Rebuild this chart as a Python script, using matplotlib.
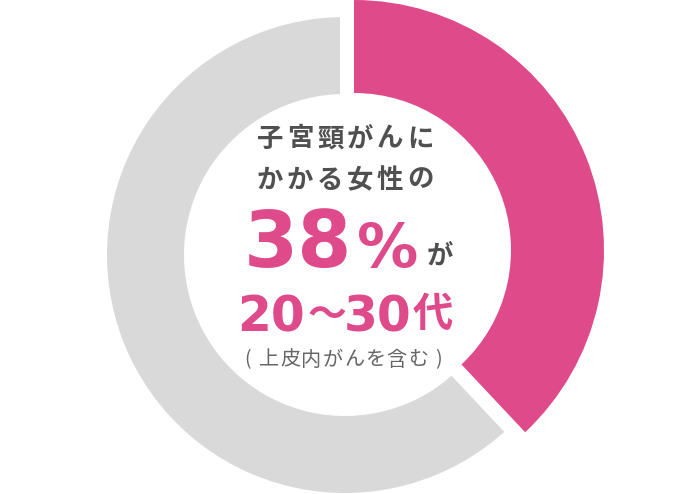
import matplotlib
matplotlib.use("Agg")
import matplotlib.pyplot as plt

plt.rcParams['font.family'] = ['Noto Sans CJK JP', 'DejaVu Sans']

# data
labels = ['20~30代', 'その他']
shares = [38, 62]
pink = '#df4a8b'
grey = '#d9d9d9'
dark = '#505050'

W, H = 690, 494
fig = plt.figure(figsize=(W / 100, H / 100), dpi=100)
ax = fig.add_axes([0, 0, 1, 1])


def py(y):
    # pixel row (from top) -> data y
    return H - y


# grey ring, white outline makes the gap at both cuts
g_wedges, _ = ax.pie(shares, colors=['none', grey], startangle=90, counterclock=False,
                     radius=243, center=(345, py(255)),
                     wedgeprops=dict(width=87, edgecolor='white', linewidth=7.2))
g_wedges[0].set_visible(False)

# pink slice, a bit bigger and pushed out
p_wedges, _ = ax.pie(shares, colors=[pink, 'none'], startangle=90, counterclock=False,
                     radius=250, center=(354, py(250)),
                     wedgeprops=dict(width=93, linewidth=0))
p_wedges[1].set_visible(False)
for w in p_wedges:
    w.set_zorder(3)

ax.set_xlim(0, W)
ax.set_ylim(0, H)
ax.set_aspect('equal')
ax.axis('off')


def spaced(s, cx, cy, pitch, **kw):
    n = len(s)
    for i, ch in enumerate(s):
        ax.text(cx + (i - (n - 1) / 2) * pitch, cy, ch, ha='center', va='center', **kw)


spaced('子宮頸がんに', 345, py(139), 30, fontsize=19, fontweight='bold', color=dark)
spaced('かかる女性の', 345, py(180), 30, fontsize=19, fontweight='bold', color=dark)

ax.text(297.5, py(267), f'{shares[0]}', ha='center', va='baseline', fontsize=56,
        fontweight='bold', color=pink, family='DejaVu Sans')
ax.text(388, py(267), '%', ha='center', va='baseline', fontsize=44,
        fontweight='bold', color=pink, family='DejaVu Sans')
ax.text(440, py(256), 'が', ha='center', va='center', fontsize=19,
        fontweight='bold', color=dark)

ax.text(271, py(332), '20', ha='center', va='baseline', fontsize=35,
        fontweight='bold', color=pink, family='DejaVu Sans')
ax.text(327, py(316), '～', ha='center', va='center', fontsize=28,
        fontweight='bold', color=pink)
ax.text(377.5, py(332), '30', ha='center', va='baseline', fontsize=35,
        fontweight='bold', color=pink, family='DejaVu Sans')
ax.text(433, py(314), '代', ha='center', va='center', fontsize=29,
        fontweight='bold', color=pink)

ax.text(247.5, py(360), '(', ha='center', va='center', fontsize=14, color='#666666')
spaced('上皮内がんを含む', 343.5, py(360), 21.3, fontsize=14.5, color='#666666')
ax.text(438, py(360), ')', ha='center', va='center', fontsize=14, color='#666666')

fig.savefig('out.png', dpi=100)
